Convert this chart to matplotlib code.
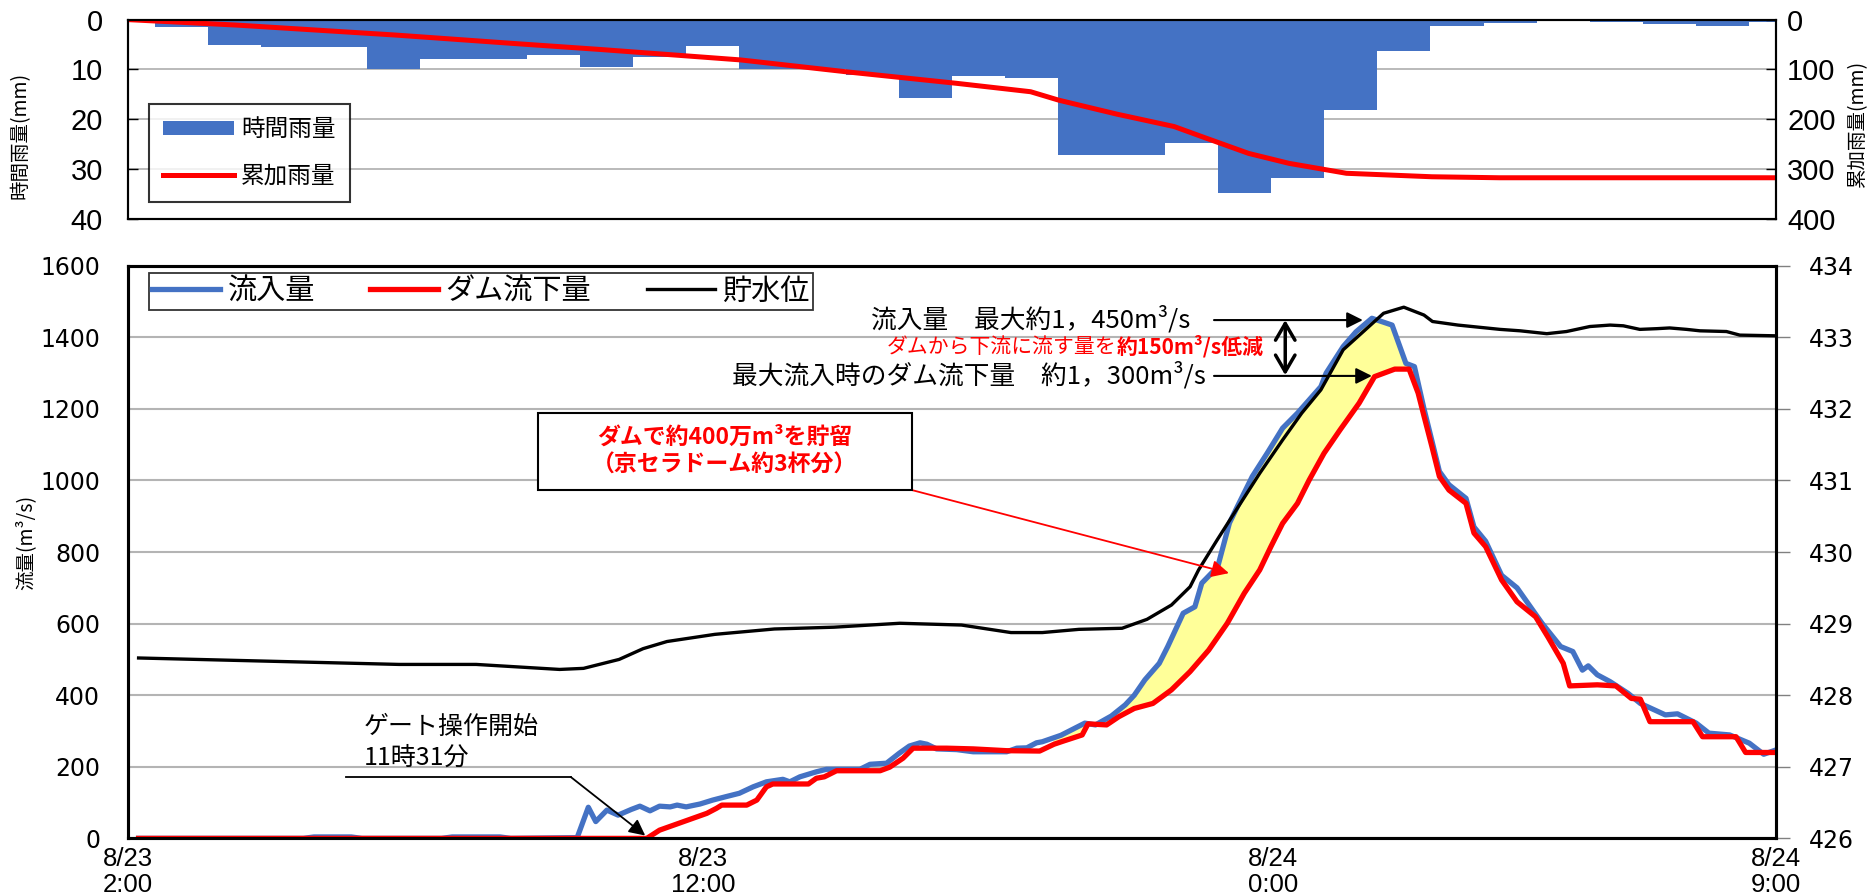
import numpy as np
import matplotlib.pyplot as plt
from matplotlib import font_manager
from matplotlib.patches import Rectangle

plt.rcParams['font.family'] = ['Noto Sans CJK JP', 'DejaVu Sans']

names = {f.name for f in font_manager.fontManager.ttflist}
narrow = 'Liberation Sans Narrow' if 'Liberation Sans Narrow' in names else 'Liberation Sans'

# x axis = hours since 8/23 2:00
tick_hours = [0, 10.82, 21.54, 31]
tick_labels = ['8/23\n2:00', '8/23\n12:00', '8/24\n0:00', '8/24\n9:00']

# hourly rain (mm), bar centred on each hour
rain_hours = list(range(0, 32))
rain_mm = [0.3, 1.4, 5.1, 5.5, 5.5, 10.0, 8.0, 8.0, 7.1, 9.6, 7.6, 5.4, 10.0, 10.0, 11.1, 15.8,
           11.3, 11.7, 27.3, 27.3, 24.9, 34.8, 31.9, 18.2, 6.3, 1.3, 0.6, 0.0, 0.5, 0.8, 1.3, 0.5]

# cumulative rain (mm)
cum_hours = [0, 2.05, 5.03, 7.26, 8.88, 11.52, 13.52, 15.58, 16.98, 17.51, 18.6, 19.68, 20.22,
             21.08, 21.84, 22.92, 24.53, 25.8, 31]
cum_mm = [0, 11, 31, 48, 60, 81, 105, 128, 145, 162, 190, 215, 236, 269, 289, 309, 316, 318, 318]

# inflow (m3/s)
inflow_hours = [0.2, 3.3, 3.5, 4.2, 4.4, 5.9, 6.1, 7.0, 7.2, 8.45, 8.66, 8.8, 9.01, 9.22, 9.47,
                9.63, 9.82, 10.0, 10.2, 10.33, 10.5, 10.76, 11.0, 11.26, 11.5, 11.76, 12.01,
                12.32, 12.45, 12.64, 12.95, 13.14, 13.77, 13.96, 14.27, 14.51, 14.7, 14.9, 15.03,
                15.21, 15.59, 15.9, 16.53, 16.72, 16.91, 17.09, 17.2, 17.55, 18.0, 18.2, 18.5,
                18.76, 18.93, 19.13, 19.4, 19.56, 19.85, 20.07, 20.2, 20.5, 20.72, 20.87, 21.15,
                21.43, 21.72, 22.0, 22.44, 22.54, 22.86, 23.1, 23.4, 23.78, 24.04, 24.2, 24.38,
                24.53, 24.67, 24.85, 25.17, 25.32, 25.54, 25.84, 26.13, 26.6, 26.95, 27.18, 27.36,
                27.47, 27.64, 27.88, 28.22, 28.45, 28.92, 29.15, 29.5, 29.74, 30.13, 30.5, 30.77,
                31.0]
inflow = [0, 0, 4, 4, 0, 0, 4, 4, 0, 2, 87, 47, 79, 65, 81,
          90, 77, 90, 88, 93, 88, 96, 107, 117, 126, 144, 158,
          165, 158, 172, 186, 193, 193, 207, 210, 238, 258, 267, 263,
          250, 248, 242, 242, 252, 253, 267, 270, 288, 322, 317, 342,
          373, 400, 443, 489, 536, 629, 647, 713, 759, 881, 927, 1011,
          1076, 1146, 1188, 1262, 1300, 1374, 1415, 1453, 1434, 1327, 1318, 1200,
          1110, 1025, 988, 950, 870, 830, 735, 700, 601, 536, 522, 470,
          482, 457, 438, 405, 377, 345, 348, 322, 294, 289, 266, 235,
          247]

# dam outflow (m3/s)
outflow_hours = [0.2, 9.76, 10.0, 10.89, 11.07, 11.17, 11.64, 11.83, 12.01, 12.13, 12.8, 12.95,
                 13.1, 13.33, 14.15, 14.33, 14.58, 14.77, 15.4, 15.9, 16.53, 17.15, 17.42, 17.6,
                 17.95, 18.06, 18.41, 18.64, 18.93, 19.28, 19.63, 19.98, 20.33, 20.68, 21.0, 21.29,
                 21.5, 21.72, 22.0, 22.22, 22.5, 22.8, 23.16, 23.45, 23.83, 24.1, 24.27, 24.38,
                 24.53, 24.67, 24.85, 25.17, 25.32, 25.54, 25.84, 26.13, 26.48, 26.71, 27.0, 27.12,
                 27.64, 27.99, 28.28, 28.45, 28.63, 29.44, 29.62, 30.25, 30.43, 31.0]
outflow = [0, 0, 23, 70, 84, 93, 93, 107, 144, 152, 152, 168,
           172, 189, 189, 199, 224, 252, 252, 250, 245, 244, 263, 272,
           289, 320, 317, 340, 363, 377, 415, 466, 526, 601, 685, 750,
           815, 880, 936, 1001, 1076, 1141, 1216, 1290, 1311, 1311, 1244, 1180,
           1094, 1011, 973, 936, 853, 815, 722, 661, 619, 563, 489, 426,
           429, 426, 391, 389, 326, 326, 284, 284, 240, 240]

# reservoir water level (m)
level_hours = [0.2, 5.1, 6.55, 8.12, 8.57, 9.24, 9.69, 10.14, 11.04, 12.16, 13.28, 14.52, 15.68,
               16.61, 17.2, 17.89, 18.7, 19.17, 19.63, 19.98, 20.14, 20.49, 20.85, 21.29, 21.72,
               22.08, 22.44, 22.86, 23.62, 24.0, 24.38, 24.54, 25.02, 25.81, 26.19, 26.69, 27.06,
               27.5, 27.88, 28.13, 28.44, 28.76, 29.0, 29.32, 29.57, 30.07, 30.32, 31.0]
level_m = [428.52, 428.43, 428.43, 428.36, 428.375, 428.5, 428.65, 428.75, 428.85, 428.925, 428.95,
           429.005, 428.98, 428.875, 428.875, 428.92, 428.935, 429.06, 429.26, 429.515, 429.75,
           430.17, 430.59, 431.1, 431.565, 431.94, 432.265, 432.825, 433.335, 433.42, 433.31,
           433.22, 433.17, 433.11, 433.09, 433.05, 433.08, 433.15, 433.17, 433.16, 433.11, 433.12,
           433.13, 433.11, 433.09, 433.08, 433.03, 433.02]

BLUE = '#4472C4'
GRID = '#b4b4b4'

fig = plt.figure(figsize=(18.68, 8.96), dpi=100)
ax_r = fig.add_axes([0.0685, 0.7561, 0.8822, 0.2220])
ax = fig.add_axes([0.0685, 0.0643, 0.8822, 0.6392])

# ---- rainfall panel
ax_r.bar(rain_hours, rain_mm, width=1.0, color=BLUE, zorder=2, label='時間雨量')
ax_r.set_xlim(0, 31)
ax_r.set_ylim(40, 0)
ax_r.set_xticks([])
ax_r.set_yticks([0, 10, 20, 30, 40], ['0', '10', '20', '30', '40'], fontsize=21, fontfamily=narrow)
ax_r.tick_params(axis='y', direction='in', length=7, width=1, pad=18)
ax_r.grid(axis='y', color=GRID, lw=1.3)
ax_r.set_axisbelow(True)
for s in ax_r.spines.values():
    s.set_linewidth(1.5)

ax_c = ax_r.twinx()
ax_c.plot(cum_hours, cum_mm, color='red', lw=3.6, label='累加雨量')
ax_c.set_ylim(400, 0)
ax_c.set_yticks([0, 100, 200, 300, 400], ['0', '100', '200', '300', '400'], fontsize=21, fontfamily=narrow)
ax_c.tick_params(axis='y', direction='in', length=7, width=1, pad=8)
for s in ax_c.spines.values():
    s.set_linewidth(1.5)

h1, l1 = ax_r.get_legend_handles_labels()
h2, l2 = ax_c.get_legend_handles_labels()
lg = ax_c.legend(h1 + h2, l1 + l2, loc='lower left', bbox_to_anchor=(0.0127, 0.083),
                 borderaxespad=0, fontsize=17, frameon=True, fancybox=False, edgecolor='black',
                 handlelength=3.0, handleheight=0.55, labelspacing=1.0, borderpad=0.6,
                 handletextpad=0.3)
lg.get_frame().set_linewidth(1.5)

# ---- flow panel
t = np.union1d(inflow_hours, outflow_hours)
bi = np.interp(t, inflow_hours, inflow)
ri = np.interp(t, outflow_hours, outflow)
ax.fill_between(t, ri, bi, where=(bi > ri) & (t > 17.3) & (t < 24.6), color='#FFFF99',
                interpolate=True, zorder=1)
ax.plot(inflow_hours, inflow, color=BLUE, lw=3.8, zorder=3, label='流入量')
ax.plot(outflow_hours, outflow, color='red', lw=3.8, zorder=4, label='ダム流下量')
ax.set_xlim(0, 31)
ax.set_ylim(0, 1600)
ax.set_yticks(range(0, 1601, 200), [str(v) for v in range(0, 1601, 200)], fontsize=17,
              fontfamily='DejaVu Sans')
ax.tick_params(axis='y', length=0, pad=20)
ax.set_xticks(tick_hours, tick_labels, fontsize=18.5, fontfamily=narrow, linespacing=1.1)
ax.tick_params(axis='x', length=0, pad=6)
ax.grid(axis='y', color=GRID, lw=1.5)
ax.set_axisbelow(True)
for s in ax.spines.values():
    s.set_linewidth(2.2)

# gate operation pointer
ax.plot([4.1, 8.33], [171.5, 171.5], color='black', lw=1.3, zorder=5)

ax2 = ax.twinx()
ax2.plot(level_hours, level_m, color='black', lw=2.4, label='貯水位')
ax2.set_ylim(426, 434)
ax2.set_yticks(range(426, 435), [str(v) for v in range(426, 435)], fontsize=17,
               fontfamily='DejaVu Sans')
ax2.tick_params(axis='y', length=10, width=1, color='#808080', pad=14)
for s in ax2.spines.values():
    s.set_linewidth(2.2)

h1, l1 = ax.get_legend_handles_labels()
h2, l2 = ax2.get_legend_handles_labels()
lg2 = ax2.legend(h1 + h2, l1 + l2, loc='upper left', bbox_to_anchor=(0.0127, 0.987), ncol=3,
                 borderaxespad=0, fontsize=21, frameon=True, fancybox=False, edgecolor='black',
                 handlelength=2.33, handletextpad=0.25, columnspacing=1.9, borderpad=0.12)
lg2.get_frame().set_linewidth(1.3)

# ---- annotations (drawn on top of the level line)
td = ax.transData
ax2.annotate('', xy=(23.23, 1448), xytext=(20.43, 1448), xycoords=td, textcoords=td,
             arrowprops=dict(arrowstyle='-|>', color='black', lw=1.5, mutation_scale=24,
                             shrinkA=0, shrinkB=0))
ax2.text(19.99, 1448, '流入量\u3000最大約1，450m³/s', transform=td, ha='right', va='center',
         fontsize=18.5)
ax2.annotate('', xy=(23.4, 1292), xytext=(20.43, 1292), xycoords=td, textcoords=td,
             arrowprops=dict(arrowstyle='-|>', color='black', lw=1.5, mutation_scale=24,
                             shrinkA=0, shrinkB=0))
ax2.text(20.28, 1292, '最大流入時のダム流下量\u3000約1，300m³/s', transform=td, ha='right',
         va='center', fontsize=18.5)
ax2.annotate('', xy=(21.77, 1448), xytext=(21.77, 1294), xycoords=td, textcoords=td,
             arrowprops=dict(arrowstyle='<->, head_width=0.35, head_length=0.6', color='black',
                             lw=2.5, mutation_scale=20, shrinkA=0, shrinkB=0))
ax2.text(18.6, 1374, 'ダムから下流に流す量を', transform=td, ha='right', va='center',
         fontsize=15, color='red')
ax2.text(18.6, 1374, '約150m³/s低減', transform=td, ha='left', va='center',
         fontsize=15, color='red', fontweight='bold')

ax2.add_patch(Rectangle((7.71, 973), 14.75 - 7.71, 1189 - 973, transform=td, facecolor='white',
                        edgecolor='black', lw=1.5, zorder=5))
ax2.text(11.23, 1082, 'ダムで約400万m³を貯留\n（京セラドーム約3杯分）', transform=td, ha='center',
         va='center', fontsize=16.5, color='red', fontweight='bold', linespacing=1.3, zorder=6)
ax2.annotate('', xy=(20.71, 741), xytext=(14.75, 973), xycoords=td, textcoords=td,
             arrowprops=dict(arrowstyle='-|>', color='red', lw=1.3, mutation_scale=26,
                             shrinkA=0, shrinkB=0))

ax2.annotate('', xy=(9.73, 8), xytext=(8.33, 171.5), xycoords=td, textcoords=td,
             arrowprops=dict(arrowstyle='-|>', color='black', lw=1.3, mutation_scale=24,
                             shrinkA=0, shrinkB=0))
ax2.text(4.44, 268, 'ゲート操作開始\n11時31分', transform=td, ha='left', va='center', fontsize=18,
         linespacing=1.25)

# ---- axis titles
fig.text(0.0107, 0.849, '時間雨量(mm)', rotation=90, ha='center', va='center', fontsize=14)
fig.text(0.9946, 0.862, '累加雨量(mm)', rotation=90, ha='center', va='center', fontsize=14)
fig.text(0.014, 0.395, '流量(m³/s)', rotation=90, ha='center', va='center', fontsize=14)

fig.savefig('out.png', dpi=100)
